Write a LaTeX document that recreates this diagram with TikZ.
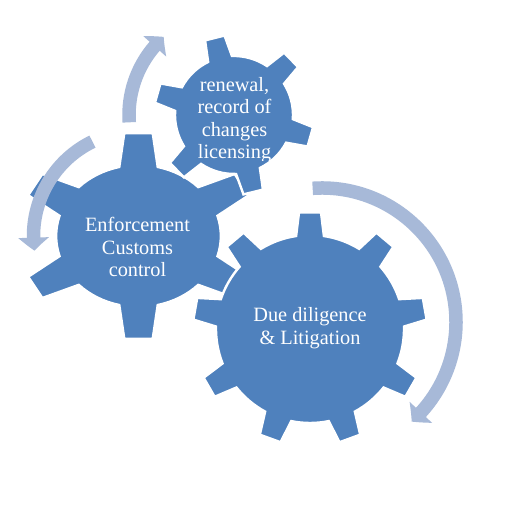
\documentclass[tikz,border=0pt]{standalone}
\usepackage{fontspec}
\setmainfont{Liberation Serif}
\usetikzlibrary{arrows.meta,bending}
\definecolor{gearblue}{HTML}{4F81BD}
\definecolor{arrowblue}{HTML}{A7B9D8}
\tikzset{
  gearfill/.style={fill=gearblue, draw=white, line width=1.2pt, line join=miter},
  pics/gear/.style n args={6}{code={
    \path[gearfill] ({#2-#6}:#4) \foreach \k in {1,...,#1} {
      -- ({#2+(\k-1)*360/#1-#5}:#3) -- ({#2+(\k-1)*360/#1+#5}:#3)
      -- ({#2+(\k-1)*360/#1+#6}:#4)
      arc[start angle={#2+(\k-1)*360/#1+#6}, end angle={#2+\k*360/#1-#6}, radius=#4]
    } -- cycle;
  }},
  cyclearrow/.style={draw=arrowblue, line width=6.75pt, -{Triangle[width=15pt,length=6.5pt,bend]}},
  geartext/.style={text=white, font=\fontsize{10.15}{11.35}\selectfont, inner sep=0pt, anchor=base},
}
\begin{document}
\begin{tikzpicture}[x=0.5pt,y=0.5pt]
\fill[white] (0,0) rectangle (512,512);
\useasboundingbox (0,0) rectangle (512,512);
% gears
\pic[xscale=1.16] at (138.5,276) {gear={6}{90}{103.5}{71}{6.8}{13.5}};
\pic at (310,183) {gear={9}{90}{117}{94}{5.4}{8.5}};
\pic at (234,397) {gear={6}{104}{80}{59}{7.2}{12}};
% texts
\node[geartext] (m1) at (137.5,280) {Enforcement};
\node[geartext] (m2) at (137.5,257.5) {Customs};
\node[geartext] (m3) at (137.5,235) {control};
\node[geartext] (b1) at (310,190) {Due diligence};
\node[geartext] (b2) at (310,167) {\& Litigation};
\begin{scope}
\clip (150,351.5) rectangle (330,450);
\node[geartext] (s1) at (234.5,420.5) {renewal,};
\node[geartext] (s2) at (234.5,398.2) {record of};
\node[geartext] (s3) at (234.5,375.9) {changes};
\node[geartext] (s4) at (234.5,353.6) {licensing};
\end{scope}
% arrows
\coordinate (csmall) at (234,397);
\coordinate (cmed) at (138.5,276);
\coordinate (cbig) at (322,190);
\draw[cyclearrow] (csmall) ++(184:105) arc[start angle=184, end angle=132, radius=105];
\draw[cyclearrow] (cmed) ++(116:105) arc[start angle=116, end angle=188, radius=105];
\draw[cyclearrow] (cbig) ++(94:134) arc[start angle=94, end angle=-48, radius=134];
\end{tikzpicture}
\end{document}
